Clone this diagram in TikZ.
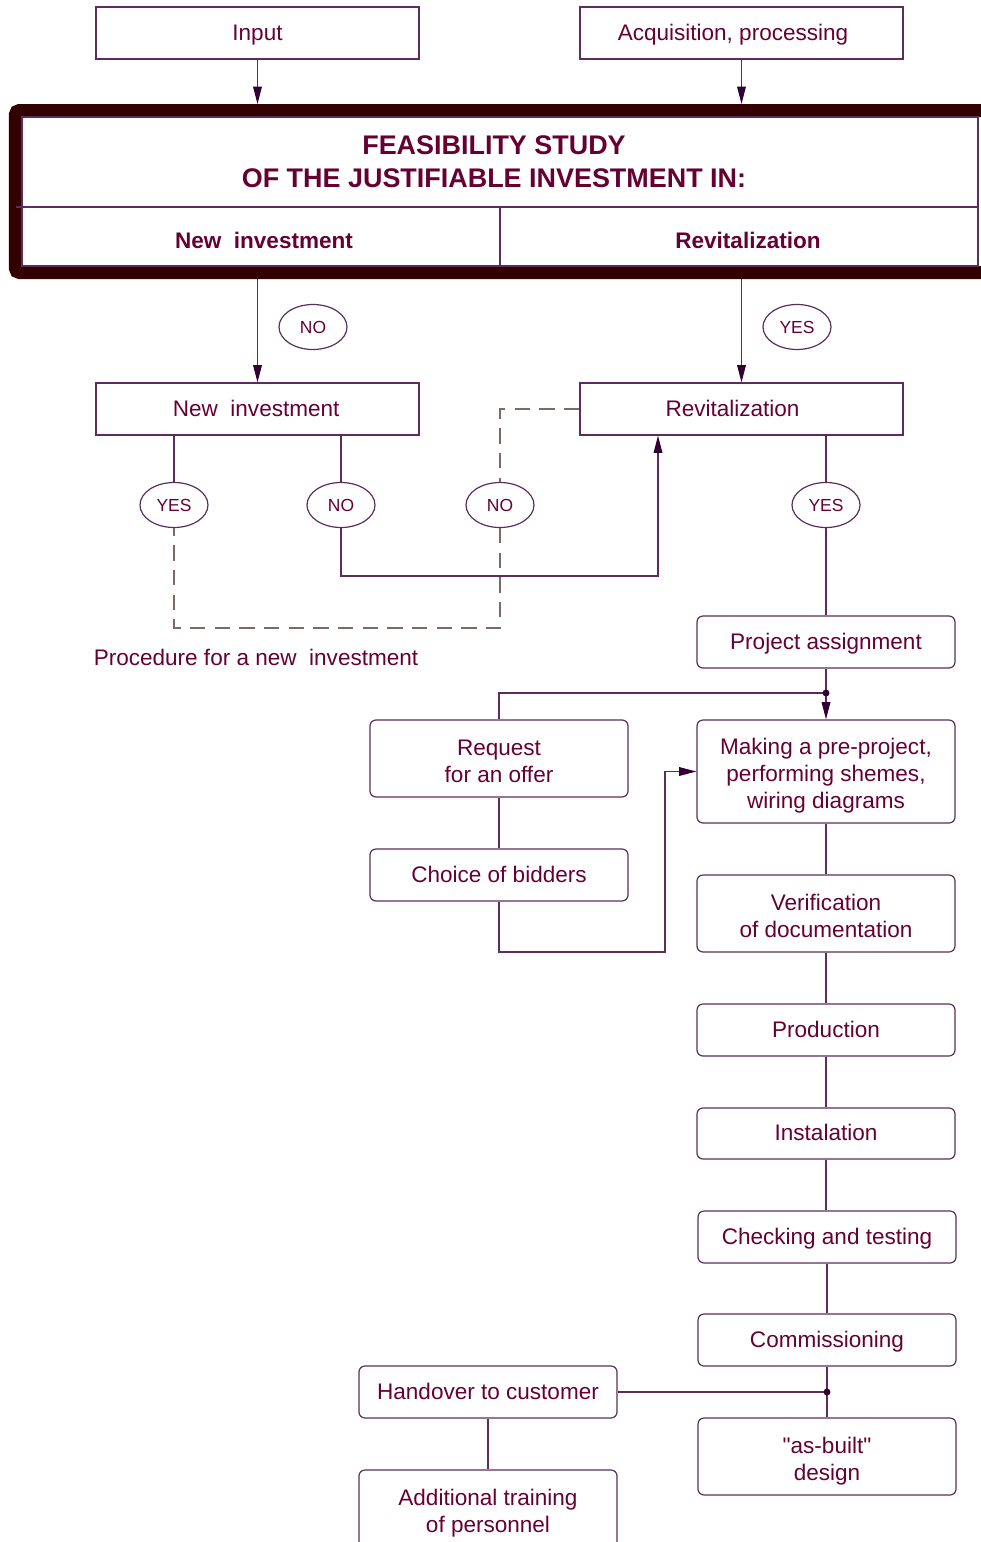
\documentclass[tikz,border=0pt]{standalone}
\usepackage{fontspec}
\setmainfont{Liberation Sans}[Ligatures=TeXOff]
\usetikzlibrary{arrows.meta,shapes.geometric}
\definecolor{txt}{RGB}{102,0,51}
\definecolor{ln}{RGB}{92,45,92}
\definecolor{tipc}{RGB}{51,0,51}
\definecolor{frm}{RGB}{51,0,0}
\definecolor{dshc}{RGB}{128,104,104}
\newcommand{\topstrut}{\rule{0pt}{19.5pt}}
\tikzset{
 box/.style={draw=ln, line width=0.9pt, text=txt, font=\fontsize{16.9}{20.25}\selectfont, align=center, inner sep=0pt, minimum width=193.5pt,
   execute at begin node={\rule{0pt}{15pt}}, execute at end node={\rule[-4pt]{0pt}{4pt}}},
 sqbox/.style={box, minimum width=242.25pt, minimum height=39pt},
 rbox/.style={box, rounded corners=4.5pt},
 oval/.style={ellipse, draw=ln, line width=0.9pt, text=txt, font=\fontsize{13.1}{15}\selectfont, minimum width=51pt, minimum height=33.75pt, inner sep=0pt},
 conn/.style={draw=ln, line width=0.9pt},
 arr/.style={conn, -{Triangle[length=13pt,width=6.5pt,color=tipc]}},
 dashline/.style={draw=dshc, line width=0.9pt, dash pattern=on 11.5pt off 7pt},
 lbl/.style={text=txt, inner sep=0pt, align=center},
 dot/.style={fill=tipc, draw=none},
}
\begin{document}
\begin{tikzpicture}[x=0.75pt,y=-0.75pt]
\useasboundingbox (0,0) rectangle (981,1542);
\clip (0,0) rectangle (981,1542);
% top boxes
\node[sqbox] (inp) at (257.5,33) {Input};
\node[sqbox] (acq) at (741.5,33) {\hspace*{-12.75pt}Acquisition, processing};
% frame
\node[draw=frm, line width=9.75pt, rounded corners=3pt, minimum width=730.9pt, minimum height=121.5pt, inner sep=0pt] (frame) at (502.75,191.5) {};
\draw[ln, line width=0.9pt] (22,117) rectangle (978,266);
\draw[ln, line width=0.9pt] (16,207) -- (978,207);
\draw[ln, line width=0.9pt] (500,207) -- (500,266);
\node[lbl, font=\bfseries\fontsize{20.2}{24.75}\selectfont] (title) at (494,161.5) {FEASIBILITY STUDY\\OF THE JUSTIFIABLE INVESTMENT IN:};
\node[lbl, font=\bfseries\fontsize{16.9}{20.25}\selectfont] (tnew) at (264,240) {New~~investment};
\node[lbl, font=\bfseries\fontsize{16.9}{20.25}\selectfont] (trev) at (748,240) {Revitalization};
\draw[arr] (inp.south) -- (inp.south |- frame.north);
\draw[arr] (acq.south) -- (acq.south |- frame.north);
% second row
\node[sqbox] (newi) at (257.5,409) {\hspace*{-2pt}New~~investment};
\node[sqbox] (revi) at (741.5,409) {\hspace*{-13.5pt}Revitalization};
\draw[arr] (newi.north |- frame.south) -- (newi.north);
\draw[arr] (revi.north |- frame.south) -- (revi.north);
\node[oval] (no1) at (313,327) {NO};
\node[oval] (yes1) at (797,327) {YES};
% decision ellipses
\node[oval] (yes2) at (174,505) {YES};
\node[oval] (no2) at (341,505) {NO};
\node[oval] (no3) at (500,505) {NO};
\node[oval] (yes3) at (826,505) {YES};
\draw[conn] (yes2.north |- newi.south) -- (yes2.north);
\draw[conn] (no2.north |- newi.south) -- (no2.north);
\draw[conn] (yes3.north |- revi.south) -- (yes3.north);
\draw[dashline] (revi.west) -| (no3.north);
\coordinate (dr) at (500,628);
\coordinate (dl) at (174,628);
\draw[dashline] (no3.south) -- (dr) -- (dl) -- (yes2.south);
\coordinate (c1) at (658,576);
\draw[arr] (no2.south) |- (c1) -- (c1 |- revi.south);
\node[lbl, font=\fontsize{16.9}{20.25}\selectfont] (proc) at (256,657) {Procedure for a new~~investment};
% right column
\node[rbox, minimum height=39pt] (proj) at (826,642) {Project assignment};
\node[rbox, minimum height=77.25pt] (make) at (826,771.5) {\topstrut Making a pre-project,\\performing shemes,\\wiring diagrams};
\node[rbox, minimum height=57.75pt] (req) at (499,758.5) {\topstrut Request\\for an offer};
\node[rbox, minimum height=39pt] (choice) at (499,875) {Choice of bidders};
\node[rbox, minimum height=57.75pt] (verif) at (826,913.5) {\topstrut Verification\\of documentation};
\node[rbox, minimum height=39pt] (prod) at (826,1030) {Production};
\node[rbox, minimum height=38.25pt] (inst) at (826,1133.5) {Instalation};
\node[rbox, minimum height=39pt] (check) at (827,1237) {Checking and testing};
\node[rbox, minimum height=39pt] (comm) at (827,1340) {Commissioning};
\node[rbox, minimum height=39pt] (hand) at (488,1392) {Handover to customer};
\node[rbox, minimum height=57.75pt] (asb) at (827,1456.5) {\topstrut "as-built"\\design};
\node[rbox, minimum height=58.5pt] (add) at (488,1509) {\topstrut Additional training\\of personnel};
\draw[conn] (yes3.south) -- (yes3.south |- proj.north);
\coordinate (d1) at (826,693);
\draw[arr] (proj.south) -- (make.north);
\draw[conn] (d1) -| (req.north);
\fill[dot] (d1) circle (2.6pt);
\draw[conn] (req.south) -- (choice.north);
\coordinate (c2) at (665,952);
\draw[arr] (choice.south) |- (c2) -- (c2 |- make.west) -- (make.west);
\draw[conn] (make.south) -- (verif.north);
\draw[conn] (verif.south) -- (prod.north);
\draw[conn] (prod.south) -- (inst.north);
\draw[conn] (inst.south) -- (inst.south |- check.north);
\draw[conn] (check.south) -- (comm.north);
\coordinate (d2) at (827,1392);
\draw[conn] (comm.south) -- (asb.north);
\draw[conn] (d2) -- (hand.east);
\fill[dot] (d2) circle (2.6pt);
\draw[conn] (hand.south) -- (add.north);
\end{tikzpicture}
\end{document}
